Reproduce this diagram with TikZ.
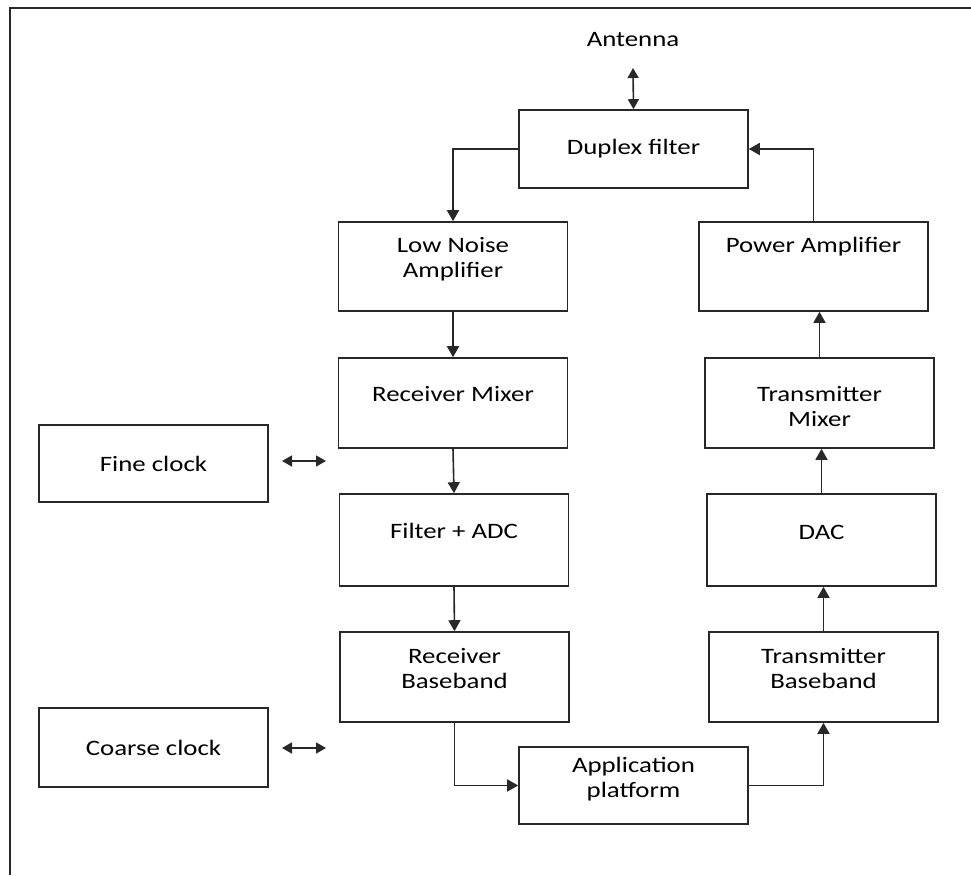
\documentclass[tikz,border=0pt]{standalone}
\usepackage{fontspec}
\setmainfont{Carlito}[FakeStretch=1.22]
\usetikzlibrary{arrows.meta}
\definecolor{LineGray}{RGB}{40, 40, 40}
\newcommand{\boxlw}{1.6pt}

\begin{document}
\begin{tikzpicture}[x=1pt, y=-1pt,
  every node/.style={font=\fontsize{22}{25}\selectfont},
  blk/.style={draw=LineGray, line width=\boxlw, minimum width=229pt, minimum height=#1, inner sep=0pt},
  blk/.default=90pt,
  txt/.style={align=center},
  arr/.style={line width=\boxlw, draw=LineGray, -{Triangle[length=11pt,width=12pt]}},
  dbl/.style={line width=\boxlw, draw=LineGray, {Triangle[length=10pt,width=11pt]}-{Triangle[length=10pt,width=11pt]}}]
  \useasboundingbox (0,0) rectangle (971,875);
  \draw[line width=2pt, LineGray] (10,875) -- (10,8) -- (971,8);

  % receive side
  \node (ant) at (633,40) {Antenna};
  \node[blk=78pt, label={[txt]center:Duplex filter}] (dup) at (633.5,149) {};
  \node[blk=89pt, label={[txt,yshift=7pt]center:{Low Noise\\Amplifier}}] (lna) at (453,266.5) {};
  \node[blk, label={[txt,yshift=9pt]center:Receiver Mixer}] (rxm) at (453,403) {};
  \node[blk=92pt, label={[txt,yshift=9pt]center:Filter + ADC}] (fadc) at (454,540) {};
  \node[blk, label={[txt,yshift=8pt]center:{Receiver\\Baseband}}] (rxbb) at (454.5,677) {};
  \node[blk=77pt, label={[txt,yshift=6pt]center:{Application\\platform}}] (app) at (633.5,785.5) {};

  % transmit side
  \node[blk=89pt, label={[txt,yshift=19.5pt]center:Power Amplifier}] (pa) at (813.5,266.5) {};
  \node[blk, label={[txt,yshift=-4pt]center:{Transmitter\\Mixer}}] (txm) at (819.5,403) {};
  \node[blk=92pt, label={[txt,yshift=8pt]center:DAC}] (dac) at (821.5,540) {};
  \node[blk, label={[txt,yshift=8pt]center:{Transmitter\\Baseband}}] (txbb) at (823.5,677) {};

  % clocks
  \node[blk=77pt, label={[txt]center:Fine clock}] (fine) at (153.5,463.5) {};
  \node[blk=79pt, label={[txt]center:Coarse clock}] (coarse) at (153.5,747.5) {};
  \coordinate (fineA) at (282,461);
  \coordinate (fineB) at (326,461);
  \coordinate (coarseA) at (282,748);
  \coordinate (coarseB) at (326,748);
  \coordinate (antTip) at (633,68);

  \draw[dbl] (antTip) -- (dup.north);
  \draw[dbl] (fineA) -- (fineB);
  \draw[dbl] (coarseA) -- (coarseB);

  \draw[arr] (dup.west) -| (lna.north);
  \draw[arr] (lna.south) -- (rxm.north);
  \draw[arr] (rxm.south) -- (fadc.north);
  \draw[arr] (fadc.south) -- (rxbb.north);
  \draw[arr] (rxbb.south) |- (app.west);
  \draw[arr] (app.east) -| (txbb.south);
  \draw[arr] (txbb.north) -- (txbb.north |- dac.south);
  \draw[arr] (dac.north) -- (dac.north |- txm.south);
  \draw[arr] (txm.north) -- (txm.north |- pa.south);
  \draw[arr] (pa.north) |- (dup.east);
\end{tikzpicture}
\end{document}
